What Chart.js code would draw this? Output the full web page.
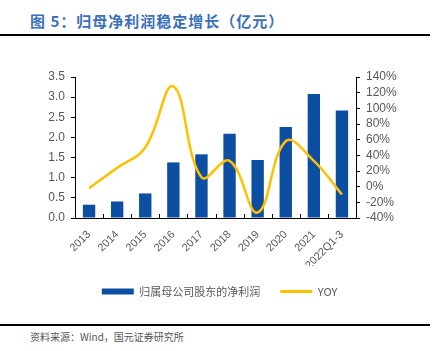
<!DOCTYPE html>
<html>
<head>
<meta charset="utf-8">
<script src="https://cdn.jsdelivr.net/npm/chart.js@4"></script>
<style>
  body { margin: 0; background: #fff; width: 439px; height: 351px; position: relative; overflow: hidden; }
  .title { position: absolute; left: 30px; top: 10px; font: bold 15px "Noto Sans CJK SC", sans-serif; color: #3A70B8; letter-spacing: 1px; }
  .rule { position: absolute; left: 0; width: 430px; background: #000; }
  .source { position: absolute; left: 30px; top: 329px; font: 10px "Noto Sans CJK SC", sans-serif; color: #555; }
  #wrap { position: absolute; left: 0; top: 40px; width: 439px; height: 270px; }
</style>
</head>
<body>
<div class="title">图 5：归母净利润稳定增长（亿元）</div>
<div class="rule" style="top:34px;height:2px"></div>
<div id="wrap"><canvas id="chart" width="439" height="270"></canvas></div>
<div class="rule" style="top:324px;height:1.5px"></div>
<div class="source">资料来源：Wind，国元证券研究所</div>
<script>
const years = ['2013', '2014', '2015', '2016', '2017', '2018', '2019', '2020', '2021', '2022Q1-3'];
const netProfit = [0.33, 0.41, 0.61, 1.38, 1.58, 2.09, 1.44, 2.26, 3.08, 2.67];
const yoy = [-2, 24, 50, 128, 12, 33, -33, 58, 33, -10];

const labelColor = '#595959';
const numFont = { family: '"Liberation Sans", Arial, sans-serif', size: 12 };

// little inward ticks on the category axis, between the bars
const innerTicks = {
    id: 'innerTicks',
    afterDatasetsDraw(chart) {
        const { ctx, chartArea, scales } = chart;
        const x = scales.x;
        const step = (chartArea.right - chartArea.left) / years.length;
        ctx.save();
        ctx.strokeStyle = '#000';
        ctx.lineWidth = 1;
        for (let i = 1; i < years.length; i++) {
            const px = Math.round(x.left + step * i) + 0.5;
            ctx.beginPath();
            ctx.moveTo(px, chartArea.bottom);
            ctx.lineTo(px, chartArea.bottom - 4);
            ctx.stroke();
        }
        ctx.restore();
    }
};

new Chart(document.getElementById('chart'), {
    data: {
        labels: years,
        datasets: [
            {
                type: 'bar',
                label: '归属母公司股东的净利润',
                data: netProfit,
                backgroundColor: '#0B4EA2',
                barPercentage: 0.44,
                categoryPercentage: 1,
                yAxisID: 'y',
                order: 2
            },
            {
                type: 'line',
                label: 'YOY',
                data: yoy,
                borderColor: '#FFC000',
                backgroundColor: '#FFC000',
                borderWidth: 2.5,
                pointRadius: 0,
                tension: 0.4,
                yAxisID: 'y1',
                order: 1
            }
        ]
    },
    options: {
        responsive: false,
        animation: false,
        layout: { padding: { top: 37, bottom: 3, left: 0, right: 0 } },
        plugins: {
            tooltip: { enabled: false },
            legend: {
                position: 'bottom',
                labels: {
                    usePointStyle: true,
                    pointStyleWidth: 32,
                    boxHeight: 6,
                    padding: 20,
                    color: labelColor,
                    font: { family: '"Noto Sans CJK SC", sans-serif', size: 11 },
                    generateLabels: chart => {
                        const items = Chart.defaults.plugins.legend.labels.generateLabels(chart);
                        items.sort((a, b) => a.datasetIndex - b.datasetIndex);
                        items.forEach(it => {
                            if (it.datasetIndex === 0) { it.pointStyle = 'rect'; it.lineWidth = 0; }
                            else { it.pointStyle = 'line'; it.lineWidth = 3; it.strokeStyle = '#FFC000'; }
                        });
                        return items;
                    }
                }
            }
        },
        scales: {
            x: {
                grid: { display: false },
                border: { color: '#000', width: 1 },
                ticks: { color: labelColor, font: { family: numFont.family, size: 11 }, minRotation: 45, maxRotation: 45, padding: 2, autoSkip: false },
                afterFit: s => { s.height = 48; }
            },
            y: {
                position: 'left',
                min: 0,
                max: 3.5,
                grid: { drawOnChartArea: false, drawTicks: true, tickLength: 4, color: '#000' },
                border: { color: '#000', width: 1 },
                ticks: { stepSize: 0.5, autoSkip: false, color: labelColor, font: numFont, padding: 6, callback: v => v.toFixed(1) },
                afterFit: s => { s.width = 75; }
            },
            y1: {
                position: 'right',
                min: -40,
                max: 140,
                grid: { drawOnChartArea: false, drawTicks: true, tickLength: 4, color: '#000' },
                border: { color: '#000', width: 1 },
                ticks: { stepSize: 20, autoSkip: false, color: labelColor, font: numFont, padding: 6, callback: v => v + '%' },
                afterFit: s => { s.width = 83; }
            }
        }
    },
    plugins: [innerTicks]
});
</script>
</body>
</html>
